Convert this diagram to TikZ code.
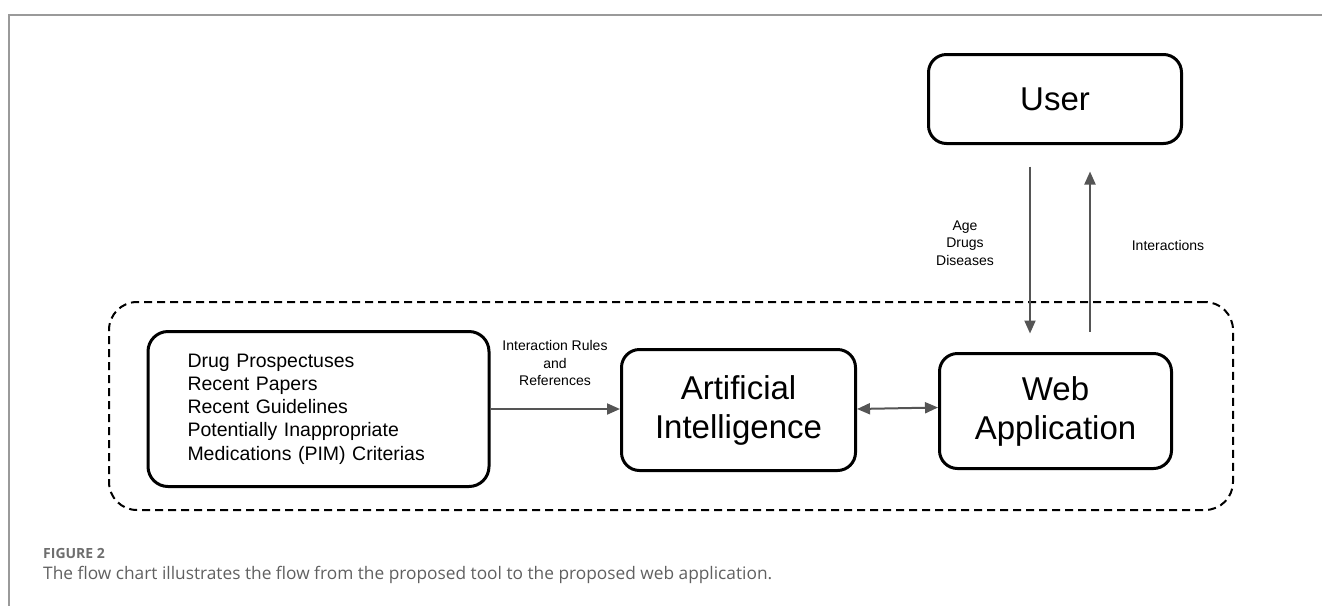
\documentclass[tikz,border=0pt]{standalone}
\usepackage{fontspec}
\setmainfont{Liberation Sans}
\newfontfamily\capfont{Open Sans}
\usetikzlibrary{arrows.meta}
\definecolor{frameline}{HTML}{9A9A9A}
\definecolor{arrowgray}{HTML}{555555}
\definecolor{captext}{HTML}{606060}
\definecolor{capfig}{HTML}{6E6E6E}
\tikzset{
  box/.style={draw=black, line width=3pt, rounded corners=18pt, inner sep=0pt, align=center,
    font=\fontsize{33}{39}\selectfont},
  conn/.style={draw=arrowgray, line width=2pt, -{Triangle[length=13pt,width=11pt]}},
  biconn/.style={draw=arrowgray, line width=2pt, {Triangle[length=13pt,width=11pt]}-{Triangle[length=13pt,width=11pt]}},
  lbl/.style={inner sep=0pt, align=center, font=\fontsize{14}{17.5}\selectfont},
  sysframe/.style={draw=black, line width=2pt, dash pattern=on 8pt off 5pt, rounded corners=28pt, inner sep=0pt},
}
\begin{document}
\begin{tikzpicture}[x=1pt,y=-1pt]
\useasboundingbox (0,0) rectangle (1322,606);
\draw[frameline, line width=2pt] (1322,14.5) -- (9,14.5) -- (9,606);

\node[sysframe, minimum width=1124pt, minimum height=208pt] (sys) at (671,406) {};

\node[box, minimum width=253pt, minimum height=89pt] (user) at (1055,99) {User};
\node[box, rounded corners=20pt, anchor=west, minimum width=341pt, minimum height=155pt,
  text width=262pt, inner xsep=36pt, align=left, font=\fontsize{19.5}{23.3}\selectfont]
  (src) at (146.5,409) {Drug Prospectuses\\Recent Papers\\Recent Guidelines\\Potentially Inappropriate\\Medications (PIM) Criterias};
\node[box, minimum width=234pt, minimum height=121pt] (ai) at (738.5,410) {Artificial\\Intelligence};
\node[box, minimum width=232pt, minimum height=115pt] (web) at (1055.5,411) {Web\\Application};

\draw[conn] (src.east |- 0,409) -- (ai.west |- 0,409);
\draw[biconn] (ai.east |- 0,409) -- (web.west |- 0,407.5);
\draw[conn, shorten <=21.5pt, shorten >=18.5pt] (user.south -| 1030,0) -- (web.north -| 1030,0);
\draw[conn, shorten <=20.5pt, shorten >=26.5pt] (web.north -| 1090,0) -- (user.south -| 1090,0);

\node[lbl] (rules) at (555,363) {Interaction Rules\\and\\References};
\node[lbl] (inputs) at (965,243) {Age\\Drugs\\Diseases};
\node[lbl] (outputs) at (1168,245) {Interactions};

\node[anchor=base west, inner sep=0pt, text=capfig, font=\capfont\bfseries\fontsize{14}{16}\selectfont] (fig) at (43,558) {FIGURE 2};
\node[anchor=base west, inner sep=0pt, text=captext, font=\capfont\fontsize{17.3}{20}\selectfont] (cap) at (43,579) {The flow chart illustrates the flow from the proposed tool to the proposed web application.};
\end{tikzpicture}
\end{document}
